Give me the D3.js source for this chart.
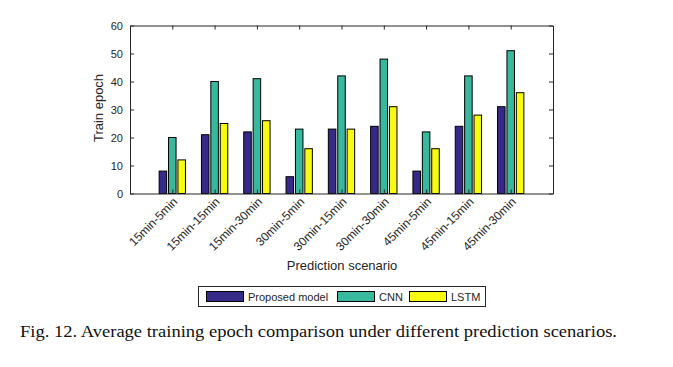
<!DOCTYPE html>
<html><head><meta charset="utf-8">
<script src="https://cdn.jsdelivr.net/npm/d3@7"></script>
<style>
body{margin:0;background:#fff;}
</style></head>
<body><svg id="c" width="673" height="367" font-family="Liberation Sans, Arial, sans-serif"></svg>
<script>
const categories = ["15min-5min","15min-15min","15min-30min","30min-5min","30min-15min","30min-30min","45min-5min","45min-15min","45min-30min"];
const proposed = [8,21,22,6,23,24,8,24,31];
const cnn = [20,40,41,23,42,48,22,42,51];
const lstm = [12,25,26,16,23,31,16,28,36];
const seriesNames = ["Proposed model","CNN","LSTM"];
const colors = ["#352a87","#38b99e","#f9fb0e"];
const yTicks = [0,10,20,30,40,50,60];

const svg = d3.select("#c");
const L=130,R=553,T=25.5,B=193.5;
const x = d3.scaleLinear().domain([0,10]).range([L,R]);
const y = d3.scaleLinear().domain([0,60]).range([B,T]);
const series=[proposed,cnn,lstm];
const off=0.2222, bw=0.178;

series.forEach((s,si)=>{
  svg.append("g").selectAll("rect").data(s).join("rect")
    .attr("x",(d,i)=>x(i+1+(si-1)*off-bw/2))
    .attr("width",x(bw)-x(0))
    .attr("y",d=>y(d))
    .attr("height",d=>y(0)-y(d))
    .attr("fill",colors[si]).attr("stroke","#000").attr("stroke-width",1);
});

// axes
const gl=svg.append("g").attr("transform",`translate(${L},0)`)
  .call(d3.axisLeft(y).tickValues(yTicks).tickSizeInner(-4).tickSizeOuter(0).tickPadding(7));
const gr=svg.append("g").attr("transform",`translate(${R},0)`)
  .call(d3.axisRight(y).tickValues(yTicks).tickSizeInner(-4).tickSizeOuter(0).tickFormat(""));
const gb=svg.append("g").attr("transform",`translate(0,${B})`)
  .call(d3.axisBottom(x).tickValues(d3.range(1,10)).tickSizeInner(-4).tickSizeOuter(0).tickFormat(""));
const gt=svg.append("g").attr("transform",`translate(0,${T})`)
  .call(d3.axisTop(x).tickValues(d3.range(1,10)).tickSizeInner(-4).tickSizeOuter(0).tickFormat(""));
[gl,gr,gb,gt].forEach(g=>{
  g.attr("font-family",null);
  g.selectAll("path").attr("stroke","#262626");
  g.selectAll("line").attr("stroke","#262626");
  g.selectAll("text").attr("font-size",11).attr("fill","#262626");
});

// rotated category labels
svg.append("g").selectAll("text").data(categories).join("text")
  .attr("transform",(d,i)=>`translate(${x(i+1)+6},${B+9}) rotate(-45)`)
  .attr("text-anchor","end").attr("font-size",12).attr("fill","#262626")
  .text(d=>d);

svg.append("text").attr("x",342).attr("y",270).attr("text-anchor","middle")
  .attr("font-size",13).attr("fill","#262626").text("Prediction scenario");
svg.append("text").attr("transform","translate(103,108) rotate(-90)").attr("text-anchor","middle")
  .attr("font-size",13).attr("fill","#262626").text("Train epoch");

// legend
const lg=svg.append("g");
lg.append("rect").attr("x",198.5).attr("y",286.5).attr("width",287).attr("height",20)
  .attr("fill","#fff").attr("stroke","#262626");
const swX=[206,337,409], txX=[248,379,451];
seriesNames.forEach((n,i)=>{
  lg.append("rect").attr("x",swX[i]+0.5).attr("y",291.5).attr("width",37).attr("height",10)
    .attr("fill",colors[i]).attr("stroke","#000");
  lg.append("text").attr("x",txX[i]).attr("y",301).attr("font-size",11).attr("fill","#262626").text(n);
});

// caption
svg.append("text").attr("x",20).attr("y",337).attr("font-family","Liberation Serif, DejaVu Serif, serif")
  .attr("font-size",16).attr("fill","#111").attr("textLength",597).attr("lengthAdjust","spacingAndGlyphs")
  .text("Fig. 12. Average training epoch comparison under different prediction scenarios.");
</script></body></html>
